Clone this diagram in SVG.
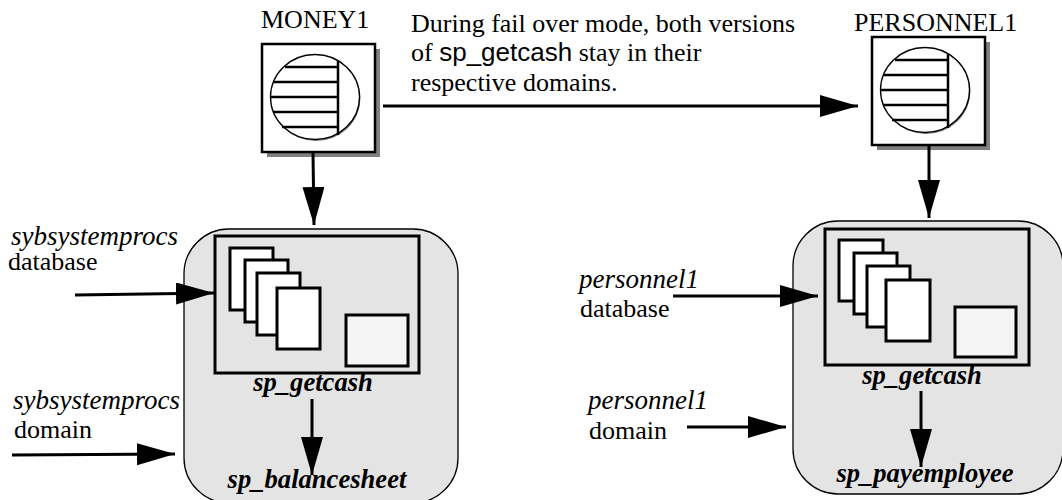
<svg xmlns="http://www.w3.org/2000/svg" width="1062" height="500" viewBox="0 0 1062 500">
<style>
text{font-family:"Liberation Serif","Times New Roman",serif;font-size:26px;fill:#000}
.i{font-style:italic;font-size:27px}
.b{font-style:italic;font-weight:bold;text-anchor:middle;font-size:26.6px}
.s{font-family:"Liberation Sans",Arial,sans-serif}
.panel{fill:#e4e4e4;stroke:#000;stroke-width:1.3}
.box{fill:#e4e4e4;stroke:#000;stroke-width:3}
.page{fill:#fff;stroke:#000;stroke-width:3}
.small{fill:#f5f5f5;stroke:#000;stroke-width:3}
.conn{fill:none;stroke:#000;stroke-width:3;marker-end:url(#head)}
.sh{fill:#808080}
.fr{fill:#fff;stroke:#000;stroke-width:2.5}
.disc{fill:#fff;stroke:#000;stroke-width:1.3}
.rule{stroke:#000;stroke-width:2.5;fill:none}
</style>
<defs>
<marker id="head" markerUnits="userSpaceOnUse" markerWidth="40" markerHeight="24" refX="38" refY="11" orient="auto"><path d="M0 0L38 11L0 22z" fill="#000"/></marker>
<g id="server">
<rect class="sh" x="5" y="5" width="113" height="108"/>
<rect class="fr" x="0" y="0" width="113" height="108"/>
<ellipse cx="54" cy="54" rx="44.5" ry="43" fill="#777"/>
<ellipse class="disc" cx="53" cy="53" rx="44.5" ry="42.5"/>
<path class="rule" d="M76 17V91M23 23H76M12 38H76M9 53H76M11 68H76M20 83H76"/>
</g>
</defs>

<g id="money1">
<use href="#server" x="262" y="44"/>
<text x="261" y="28">MONEY1</text>
</g>
<g id="personnel1">
<use href="#server" x="872" y="37"/>
<text x="854" y="31">PERSONNEL1</text>
</g>

<g id="sybsystemprocs-panel">
<rect class="panel" x="184" y="229" width="274" height="274" rx="45"/>
<rect class="box" x="215" y="236" width="204" height="137"/>
<rect class="page" x="230" y="248" width="43" height="62"/>
<rect class="page" x="245" y="260" width="43" height="62"/>
<rect class="page" x="257" y="273" width="43" height="62"/>
<rect class="page" x="277" y="288" width="43" height="61"/>
<rect class="small" x="346" y="315" width="62" height="51"/>
<text class="b" x="313" y="391">sp_getcash</text>
<text class="b" x="317" y="488">sp_balancesheet</text>
</g>

<g id="personnel1-panel">
<rect class="panel" x="793" y="221" width="270" height="273" rx="45"/>
<rect class="box" x="825" y="229" width="204" height="136"/>
<rect class="page" x="839" y="240" width="44" height="61"/>
<rect class="page" x="854" y="253" width="43" height="61"/>
<rect class="page" x="867" y="266" width="43" height="61"/>
<rect class="page" x="886" y="280" width="44" height="61"/>
<rect class="small" x="955" y="307" width="61" height="50"/>
<text class="b" x="922" y="384">sp_getcash</text>
<text class="b" x="925" y="482">sp_payemployee</text>
</g>

<g id="connectors">
<path class="conn" d="M383 106H858"/>
<path class="conn" d="M313 153L314 225"/>
<path class="conn" d="M929 146V218"/>
<path class="conn" d="M75 295L214 293"/>
<path class="conn" d="M12 455L175 454"/>
<path class="conn" d="M312 399V475"/>
<path class="conn" d="M673 296H818"/>
<path class="conn" d="M687 427H786"/>
<path class="conn" d="M921 391V467"/>
</g>

<g id="labels">
<text x="411" y="32">During fail over mode, both versions</text>
<text x="411" y="61">of <tspan class="s">sp_getcash</tspan> stay in their</text>
<text x="411" y="91">respective domains.</text>
<text class="i" x="11" y="245">sybsystemprocs</text>
<text x="8" y="270">database</text>
<text class="i" x="13" y="409">sybsystemprocs</text>
<text x="14" y="438">domain</text>
<text class="i" x="579" y="288">personnel1</text>
<text x="580" y="317">database</text>
<text class="i" x="588" y="409">personnel1</text>
<text x="589" y="439">domain</text>
</g>
</svg>
